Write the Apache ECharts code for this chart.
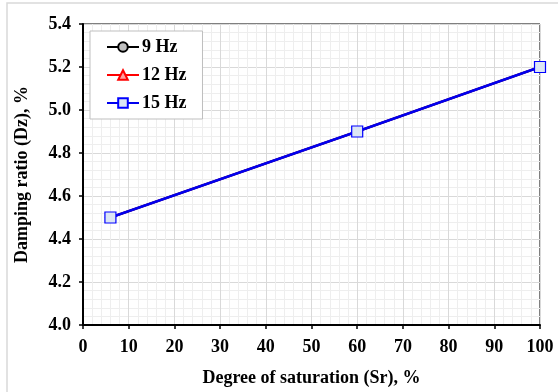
<!DOCTYPE html>
<html>
<head>
<meta charset="utf-8">
<script src="https://cdn.jsdelivr.net/npm/echarts@6/dist/echarts.min.js"></script>
<style>
  html, body { margin: 0; padding: 0; background: #fff; }
  #chart { width: 558px; height: 392px; }
</style>
</head>
<body>
<div id="chart"></div>
<script>
// Degree of saturation (%) and damping ratio (%) for each loading frequency
const saturation = [6, 60, 100];
const damping9Hz = [4.5, 4.9, 5.2];
const damping12Hz = [4.5, 4.9, 5.2];
const damping15Hz = [4.5, 4.9, 5.2];
const seriesNames = ['9 Hz', '12 Hz', '15 Hz'];

const pairs = (xs, ys) => xs.map((x, i) => [x, ys[i]]);
const font = '"Liberation Serif", "Times New Roman", serif';

const chart = echarts.init(document.getElementById('chart'), null, { renderer: 'canvas' });

chart.setOption({
  animation: false,
  backgroundColor: '#fff',
  graphic: [{
    type: 'rect',
    shape: { x: 7, y: 3, width: 560, height: 400 },
    style: { fill: 'none', stroke: '#d9d9d9', lineWidth: 1.5 },
    silent: true,
    z: -10
  }],
  grid: {
    left: 83, right: 18, top: 24, bottom: 67,
    show: true, borderColor: '#000', borderWidth: 1
  },
  legend: {
    orient: 'vertical',
    left: 90, top: 31,
    padding: [7, 16, 7, 16],
    itemWidth: 32, itemHeight: 12,
    itemGap: 10,
    backgroundColor: '#fff',
    borderColor: '#bfbfbf', borderWidth: 1,
    textStyle: { fontFamily: font, fontWeight: 'bold', fontSize: 18, color: '#000', padding: [0, 0, 0, -2] },
    data: seriesNames
  },
  xAxis: {
    type: 'value', min: 0, max: 100, interval: 10,
    name: 'Degree of saturation (Sr), %',
    nameLocation: 'middle', nameGap: 44,
    nameTextStyle: { fontFamily: font, fontWeight: 'bold', fontSize: 18, color: '#000' },
    axisLine: { onZero: false, lineStyle: { color: '#000', width: 2 } },
    axisTick: { show: true, inside: false, length: 4, lineStyle: { color: '#000', width: 1.5 } },
    axisLabel: { fontFamily: font, fontWeight: 'bold', fontSize: 18, color: '#000', margin: 13 },
    splitLine: { show: true, lineStyle: { color: '#d9d9d9', width: 1 } },
    minorTick: { show: false, splitNumber: 5 },
    minorSplitLine: { show: true, lineStyle: { color: '#eeeeee', width: 1 } }
  },
  yAxis: {
    type: 'value', min: 4.0, max: 5.4, interval: 0.2,
    name: 'Damping ratio (Dz), %',
    nameLocation: 'middle', nameGap: 52,
    nameTextStyle: { fontFamily: font, fontWeight: 'bold', fontSize: 18, color: '#000' },
    axisLine: { show: true, onZero: false, lineStyle: { color: '#000', width: 2 } },
    axisTick: { show: true, inside: false, length: 4, lineStyle: { color: '#000', width: 1.5 } },
    axisLabel: {
      fontFamily: font, fontWeight: 'bold', fontSize: 18, color: '#000', margin: 12,
      formatter: v => v.toFixed(1)
    },
    splitLine: { show: true, lineStyle: { color: '#d9d9d9', width: 1 } },
    minorTick: { show: false, splitNumber: 5 },
    minorSplitLine: { show: true, lineStyle: { color: '#eeeeee', width: 1 } }
  },
  series: [
    {
      name: seriesNames[0], type: 'line',
      data: pairs(saturation, damping9Hz),
      symbol: 'circle', symbolSize: 10,
      lineStyle: { color: '#000', width: 2 },
      itemStyle: { color: '#c0c0c0', borderColor: '#000', borderWidth: 1 },
      z: 2
    },
    {
      name: seriesNames[1], type: 'line',
      data: pairs(saturation, damping12Hz),
      symbol: 'triangle', symbolSize: 10,
      lineStyle: { color: '#ff0000', width: 2 },
      itemStyle: { color: '#ff9f9f', borderColor: '#ff0000', borderWidth: 1 },
      z: 3
    },
    {
      name: seriesNames[2], type: 'line',
      data: pairs(saturation, damping15Hz),
      symbol: 'rect', symbolSize: 11,
      lineStyle: { color: '#0000ee', width: 2.5 },
      itemStyle: { color: '#dce6f4', borderColor: '#0000ff', borderWidth: 1.2 },
      z: 4
    }
  ]
});
</script>
</body>
</html>
